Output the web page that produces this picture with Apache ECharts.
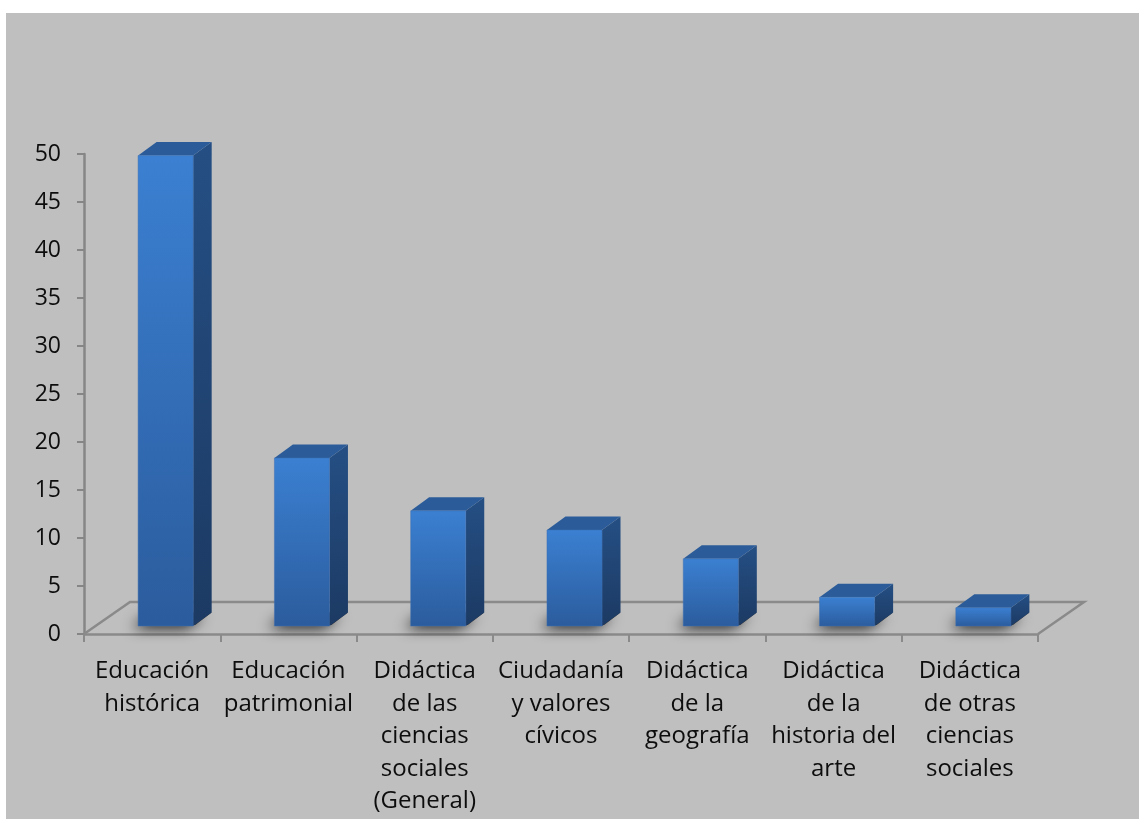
<!DOCTYPE html>
<html>
<head>
<meta charset="utf-8">
<script src="https://cdn.jsdelivr.net/npm/echarts@6/dist/echarts.min.js"></script>
<style>
  html, body { margin: 0; padding: 0; background: #ffffff; width: 1139px; height: 819px; overflow: hidden; }
  #chart { position: absolute; left: 6px; top: 13px; width: 1133px; height: 806px; background: #bfbfbf; }
</style>
</head>
<body>
<div id="chart"></div>
<script>
// ---- data ----
const categories = [
  'Educación\nhistórica',
  'Educación\npatrimonial',
  'Didáctica\nde las\nciencias\nsociales\n(General)',
  'Ciudadanía\ny valores\ncívicos',
  'Didáctica\nde la\ngeografía',
  'Didáctica\nde la\nhistoria del\narte',
  'Didáctica\nde otras\nciencias\nsociales'
];
const values = [49, 17.5, 12, 10, 7, 3, 1.9];
const yTicks = [0, 5, 10, 15, 20, 25, 30, 35, 40, 45, 50];

// ---- chart ----
const chart = echarts.init(document.getElementById('chart'), null, { renderer: 'canvas' });

const FLOOR_DX = 46, FLOOR_DY = -32;     // floor depth
const BAR_DX = 18.5, BAR_DY = -13.5;     // bar depth
const BAR_OX = 13.5, BAR_OY = -8;        // bar front-face offset from axis

function renderFloor(params, api) {
  const cs = params.coordSys;
  const x0 = cs.x, x1 = cs.x + cs.width, yb = cs.y + cs.height;
  const lineStyle = { stroke: '#8a8a8a', lineWidth: 2.5, fill: null };
  return {
    type: 'group',
    children: [
      { type: 'polyline', shape: { points: [[x0, yb], [x0 + FLOOR_DX, yb + FLOOR_DY], [x1 + FLOOR_DX, yb + FLOOR_DY], [x1, yb]] }, style: lineStyle }
    ]
  };
}

function renderBar(params, api) {
  const i = api.value(0), v = api.value(1);
  const p0 = api.coord([i, 0]);
  const p1 = api.coord([i, v]);
  const bw = api.size([1, 0])[0] * 0.404;
  const xl = p0[0] + BAR_OX - bw / 2, xr = xl + bw;
  const yb = p0[1] + BAR_OY, yt = p1[1] + BAR_OY;
  const dx = BAR_DX, dy = BAR_DY;
  return {
    type: 'group',
    children: [
      { type: 'polygon',
        shape: { points: [[xl + 2, yb - 1], [xr + 2, yb - 1], [xr + dx, yb + dy], [xl + dx, yb + dy]] },
        style: { fill: '#333333', shadowBlur: 14, shadowColor: 'rgba(0,0,0,0.9)', shadowOffsetX: -8, shadowOffsetY: 3 } },
      { type: 'polygon',
        shape: { points: [[xr, yb], [xr + dx, yb + dy], [xr + dx, yt + dy], [xr, yt]] },
        style: { fill: new echarts.graphic.LinearGradient(0, 0, 0, 1, [
          { offset: 0, color: '#254f84' }, { offset: 1, color: '#1c3a63' }]) } },
      { type: 'polygon',
        shape: { points: [[xl, yt], [xr, yt], [xr + dx, yt + dy], [xl + dx, yt + dy]] },
        style: { fill: '#2b5c99' } },
      { type: 'rect',
        shape: { x: xl, y: yt, width: bw, height: yb - yt },
        style: { fill: new echarts.graphic.LinearGradient(0, 0, 0, 1, [
          { offset: 0, color: '#3b80d2' }, { offset: 1, color: '#2b5c9d' }]),
          stroke: 'rgba(60,110,180,0.6)', lineWidth: 0.8 } }
    ]
  };
}

const option = {
  backgroundColor: 'transparent',
  animation: false,
  grid: { left: 78, top: 141, right: 101, bottom: 185, containLabel: false },
  xAxis: {
    type: 'category',
    data: categories,
    boundaryGap: true,
    axisLine: { show: true, lineStyle: { color: '#8a8a8a', width: 2.5 } },
    axisTick: { show: true, length: 8, interval: 0, lineStyle: { color: '#8a8a8a', width: 2 } },
    axisLabel: { interval: 0, color: '#0d0d0d', fontSize: 24, fontFamily: 'Open Sans', lineHeight: 32.5, margin: 21, align: 'center' },
    splitLine: { show: false }
  },
  yAxis: {
    type: 'value',
    min: yTicks[0], max: yTicks[yTicks.length - 1], interval: yTicks[1] - yTicks[0],
    axisLine: { show: true, lineStyle: { color: '#868686', width: 2.5 } },
    axisTick: { show: true, length: 7, lineStyle: { color: '#868686', width: 2 } },
    axisLabel: { color: '#0d0d0d', fontSize: 23, fontFamily: 'Open Sans', margin: 23 },
    splitLine: { show: false }
  },
  series: [
    { type: 'custom', z: 1, silent: true, renderItem: renderFloor, data: [[0, 0]], encode: { x: 0, y: 1 } },
    { type: 'custom', z: 2, renderItem: renderBar, data: values.map((v, i) => [i, v]), encode: { x: 0, y: 1 } }
  ]
};
chart.setOption(option);
</script>
</body>
</html>
